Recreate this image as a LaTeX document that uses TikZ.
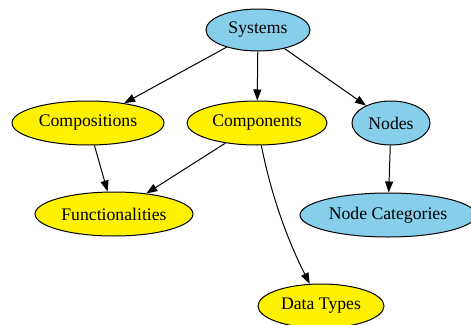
\documentclass[tikz,border=0pt]{standalone}
\usepackage{fontspec}
\setmainfont{Liberation Serif}
\usetikzlibrary{positioning,arrows.meta,shapes.geometric}
\definecolor{skyblue}{RGB}{135,206,235}

\begin{document}
\begin{tikzpicture}[
    x=1pt, y=1pt,
    blob/.style={ellipse, draw, line width=1pt, inner sep=0pt, minimum height=44pt, font=\fontsize{17.7}{20}\selectfont},
    bluebox/.style={blob, fill=skyblue},
    yellowbox/.style={blob, fill=yellow},
    arr/.style={-{Triangle[length=11pt,width=8pt]}, line width=1pt}
  ]
    \clip (0,0) rectangle (471,-324);
    \node[bluebox, minimum width=104pt, minimum height=42pt] (sys) at (258,-30) {Systems};
    \node[yellowbox, minimum width=152pt] (comp) at (88,-123) {Compositions};
    \node[yellowbox, minimum width=140pt] (cmp) at (257,-123) {Components};
    \node[bluebox, minimum width=78pt] (nod) at (391,-123) {Nodes};
    \node[yellowbox, minimum width=158pt] (func) at (114,-214) {Functionalities};
    \node[bluebox, minimum width=176pt] (ncat) at (388,-215) {Node Categories};
    \node[yellowbox, minimum width=126pt] (dt) at (321,-306) {Data Types};
    \draw[arr] (sys)--(comp); \draw[arr] (sys)--(cmp); \draw[arr] (sys)--(nod);
    \draw[arr] (comp)--(func); \draw[arr] (cmp)--(func);
    \draw[arr] (cmp) .. controls (272,-200) and (290,-245) .. (dt);
    \draw[arr] (nod)--(ncat);
  \end{tikzpicture}
\end{document}
